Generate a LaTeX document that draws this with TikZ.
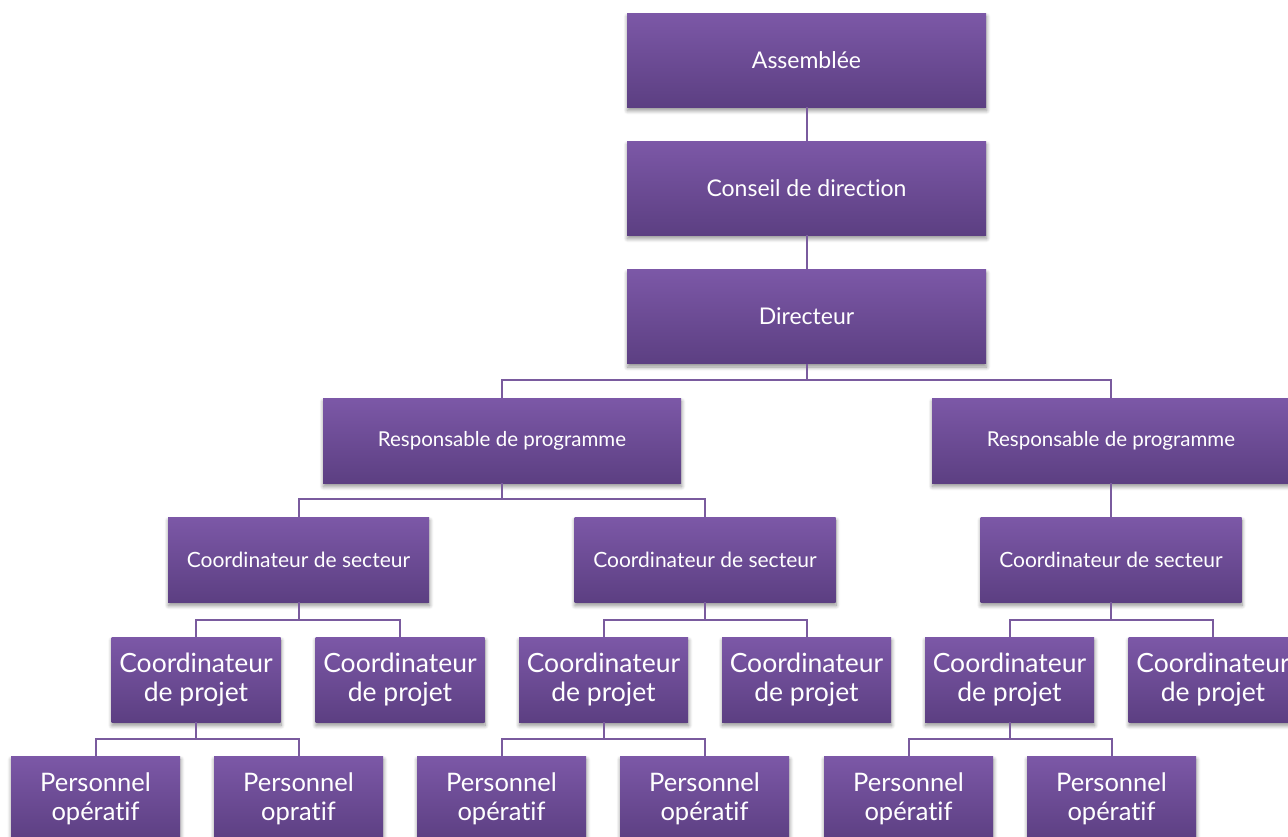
\documentclass[tikz,border=0pt]{standalone}
\usepackage{fontspec}
\setmainfont{Lato}[Ligatures={NoCommon}]
\usetikzlibrary{shadows.blur}
\definecolor{boxtop}{HTML}{7C58A7}
\definecolor{boxbot}{HTML}{5C3F82}
\definecolor{linkc}{HTML}{7A5B9E}
\tikzset{
  orgbox/.style={rectangle, top color=boxtop, bottom color=boxbot, draw=none,
    text=white, align=center, inner sep=0pt,
    blur shadow={shadow xshift=0.5pt, shadow yshift=-3.5pt, shadow blur steps=8,
      shadow blur radius=4pt, shadow opacity=45}},
  topbox/.style={orgbox, minimum width=359pt, minimum height=94pt,
    font=\fontsize{23}{27}\selectfont},
  respbox/.style={orgbox, minimum width=358pt, minimum height=85pt,
    font=\fontsize{20.5}{24}\selectfont},
  sectbox/.style={orgbox, minimum width=261pt, minimum height=85pt,
    font=\fontsize{21}{25}\selectfont},
  projbox/.style={orgbox, minimum width=169pt, minimum height=85pt,
    font=\fontsize{26.5}{29}\selectfont},
  persbox/.style={orgbox, minimum width=169pt, minimum height=85pt,
    font=\fontsize{25.5}{29}\selectfont},
  link/.style={draw=linkc, line width=2pt}
}
\begin{document}
\begin{tikzpicture}[x=1pt, y=-1pt]
\useasboundingbox (0,0) rectangle (1288,836);
\clip (0,0) rectangle (1288,836);

% branching points of the tree
\coordinate (j0) at (806.5,380);
\coordinate (j1) at (502,499);
\coordinate (j2) at (298.5,620);
\coordinate (j3) at (705,620);
\coordinate (j4) at (1111,620);
\coordinate (j5) at (196,739);
\coordinate (j6) at (603.5,739);
\coordinate (j7) at (1009.5,739);

% boxes
\node[topbox] (ass) at (806.5,60) {Assemblée};
\node[topbox] (cons) at (806.5,188) {Conseil de direction};
\node[topbox] (dir) at (806.5,316.5) {Directeur};

\node[respbox] (respL) at (502,440.5) {Responsable de programme};
\node[respbox] (respR) at (1111,440.5) {Responsable de programme};

\node[sectbox] (secA) at (298.5,559.5) {Coordinateur de secteur};
\node[sectbox] (secB) at (705,559.5) {Coordinateur de secteur};
\node[sectbox] (secC) at (1111,559.5) {Coordinateur de secteur};

\node[projbox] (proA) at (196,679.5) {Coordinateur\\de projet};
\node[projbox] (proB) at (400,679.5) {Coordinateur\\de projet};
\node[projbox] (proC) at (603.5,679.5) {Coordinateur\\de projet};
\node[projbox] (proD) at (806.5,679.5) {Coordinateur\\de projet};
\node[projbox] (proE) at (1009.5,679.5) {Coordinateur\\de projet};
\node[projbox] (proF) at (1213,679.5) {Coordinateur\\de projet};

\node[persbox] (perA) at (95.5,798.5) {Personnel\\opératif};
\node[persbox] (perB) at (298.5,798.5) {Personnel\\opratif};
\node[persbox] (perC) at (501.5,798.5) {Personnel\\opératif};
\node[persbox] (perD) at (704.5,798.5) {Personnel\\opératif};
\node[persbox] (perE) at (908.5,798.5) {Personnel\\opératif};
\node[persbox] (perF) at (1111.5,798.5) {Personnel\\opératif};

% tree links
\draw[link] (ass.south) -- (cons.north);
\draw[link] (cons.south) -- (dir.north);
\draw[link] (dir.south) -- (j0);
\draw[link] (respL.north) |- (j0) -| (respR.north);
\draw[link] (respL.south) -- (j1);
\draw[link] (secA.north) |- (j1) -| (secB.north);
\draw[link] (respR.south) -- (secC.north);
\draw[link] (secA.south) -- (j2);
\draw[link] (proA.north) |- (j2) -| (proB.north);
\draw[link] (secB.south) -- (j3);
\draw[link] (proC.north) |- (j3) -| (proD.north);
\draw[link] (secC.south) -- (j4);
\draw[link] (proE.north) |- (j4) -| (proF.north);
\draw[link] (proA.south) -- (j5);
\draw[link] (perA.north) |- (j5) -| (perB.north);
\draw[link] (proC.south) -- (j6);
\draw[link] (perC.north) |- (j6) -| (perD.north);
\draw[link] (proE.south) -- (j7);
\draw[link] (perE.north) |- (j7) -| (perF.north);
\end{tikzpicture}
\end{document}
